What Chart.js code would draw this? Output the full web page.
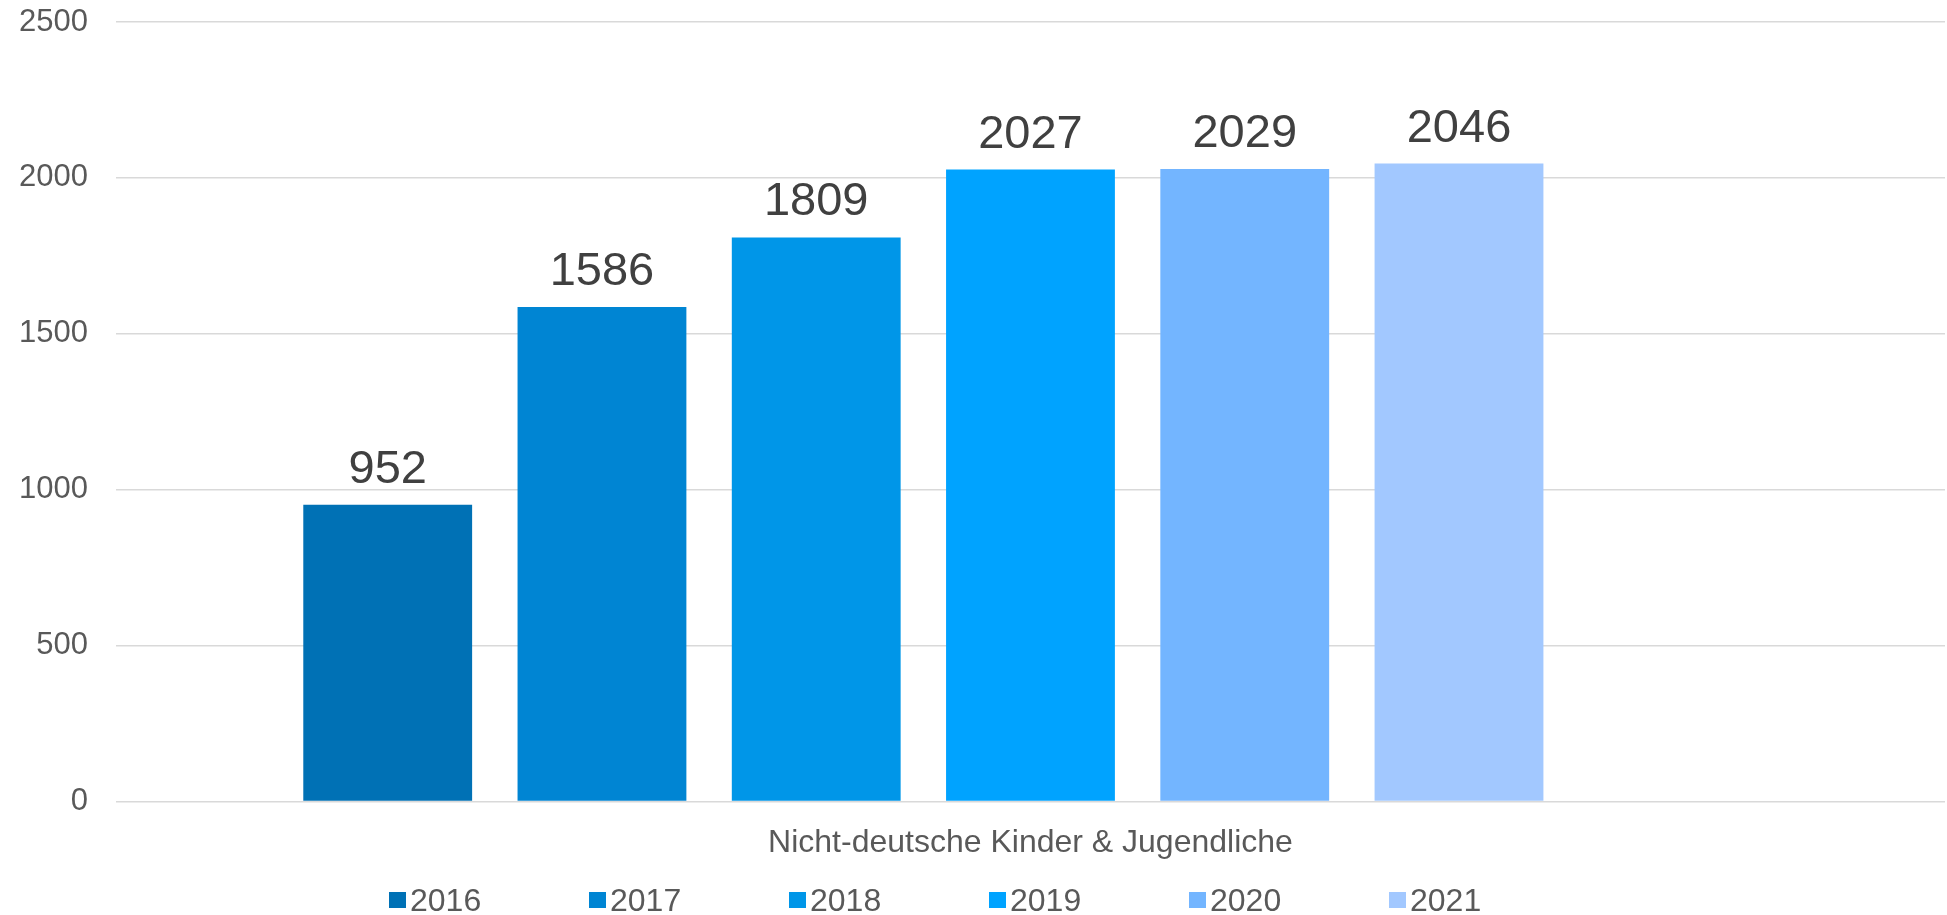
<!DOCTYPE html>
<html>
<head>
<meta charset="utf-8">
<script src="https://cdn.jsdelivr.net/npm/chart.js@4.4.3/dist/chart.umd.min.js"></script>
<style>
  html,body{margin:0;padding:0;background:#fff}
  #wrap{position:relative;width:1947px;height:915px}
  #legend{position:absolute;left:389px;top:882px;display:flex;font:32px "Liberation Sans",Arial,sans-serif;color:#595959;line-height:36px}
  #legend .item{width:200px;display:flex;align-items:center}
  #legend .box{width:17px;height:16px;margin-right:4px;display:inline-block}
</style>
</head>
<body>
<div id="wrap">
  <canvas id="c" width="1947" height="915"></canvas>
  <div id="legend"></div>
</div>
<script>
// Daten
const category = 'Nicht-deutsche Kinder & Jugendliche';
const years = ['2016', '2017', '2018', '2019', '2020', '2021'];
const values = [952, 1586, 1809, 2027, 2029, 2046];
const colors = ['#0071B5', '#0085D3', '#0096E8', '#00A3FF', '#73B5FF', '#A2C8FF'];
const yTicks = [0, 500, 1000, 1500, 2000, 2500];

const FONT = '"Liberation Sans", Arial, sans-serif';

// ein Datensatz pro Jahr, plus ein leerer Platzhalter (Excel-Gruppe ist nach links versetzt)
const datasets = years.map((y, i) => ({
  label: y,
  data: [values[i]],
  backgroundColor: colors[i],
  categoryPercentage: 0.82,
  barPercentage: 0.788
}));
datasets.push({ label: '', data: [null], backgroundColor: 'rgba(0,0,0,0)', categoryPercentage: 0.82, barPercentage: 0.788 });

// Werte über den Balken
const valueLabels = {
  id: 'valueLabels',
  afterDatasetsDraw(chart){
    const ctx = chart.ctx;
    ctx.save();
    ctx.font = '47px ' + FONT;
    ctx.fillStyle = '#404040';
    ctx.textAlign = 'center';
    ctx.textBaseline = 'alphabetic';
    chart.data.datasets.forEach((ds, i) => {
      if (ds.data[0] == null) return;
      const bar = chart.getDatasetMeta(i).data[0];
      ctx.fillText(String(ds.data[0]), bar.x, bar.y - 22);
    });
    ctx.restore();
  }
};

new Chart(document.getElementById('c').getContext('2d'), {
  type: 'bar',
  data: { labels: [category], datasets },
  options: {
    responsive: false,
    animation: false,
    layout: { padding: { left: 19, top: 22, right: 2, bottom: 39 } },
    plugins: { legend: { display: false }, tooltip: { enabled: false } },
    scales: {
      x: {
        grid: { display: false },
        border: { display: false },
        ticks: { color: '#595959', font: { family: FONT, size: 32 }, padding: 14 }
      },
      y: {
        min: 0, max: 2500,
        afterBuildTicks: (axis) => { axis.ticks = yTicks.map(v => ({ value: v })); },
        grid: { color: '#D9D9D9', lineWidth: 1.5, drawTicks: true, tickLength: 28, tickColor: 'rgba(0,0,0,0)' },
        border: { display: false },
        ticks: { color: '#595959', font: { family: FONT, size: 31 }, padding: 0, callback: v => String(v) }
      }
    }
  },
  plugins: [valueLabels]
});

// Legende
const lg = document.getElementById('legend');
years.forEach((y, i) => {
  const it = document.createElement('div'); it.className = 'item';
  it.innerHTML = `<span class="box" style="background:${colors[i]}"></span><span>${y}</span>`;
  lg.appendChild(it);
});
</script>
</body>
</html>
